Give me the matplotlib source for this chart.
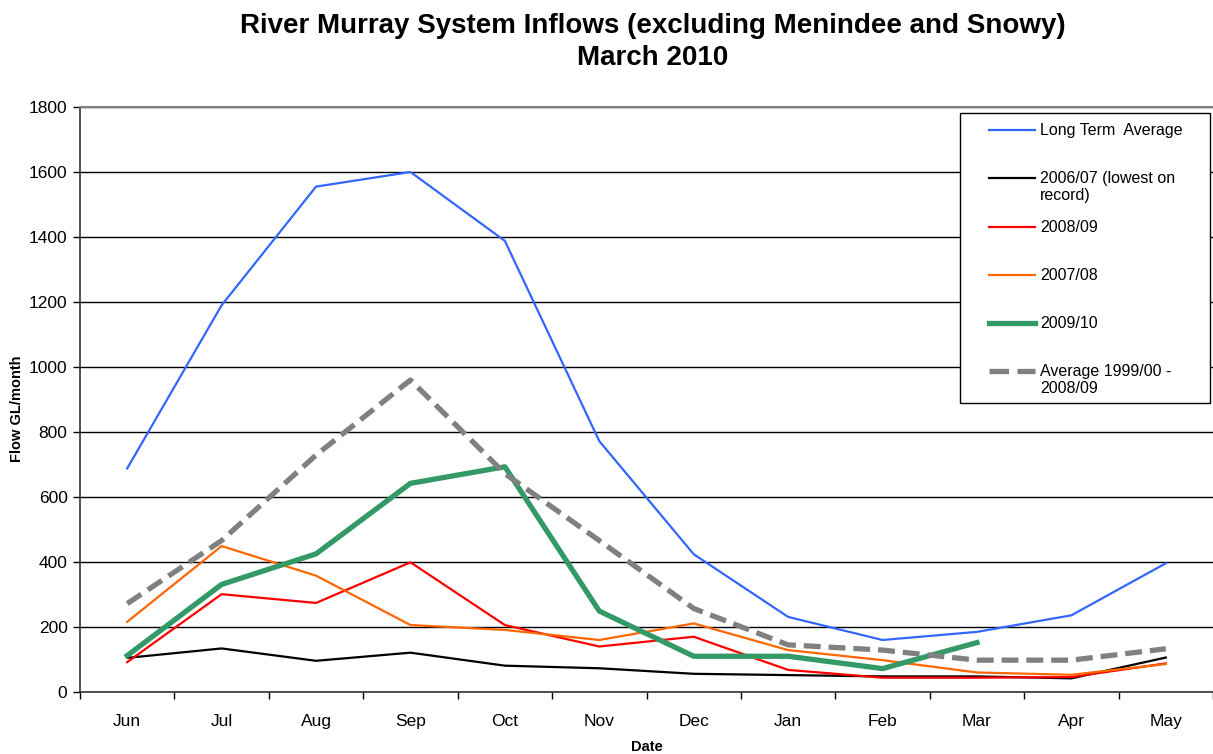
import numpy as np
import matplotlib
matplotlib.use('Agg')
import matplotlib.pyplot as plt
from matplotlib.ticker import MultipleLocator, FixedLocator
from matplotlib.lines import Line2D
from matplotlib.patches import Rectangle

plt.rcParams['font.family'] = ['Liberation Sans', 'DejaVu Sans']

# monthly inflows, GL/month
months = ['Jun', 'Jul', 'Aug', 'Sep', 'Oct', 'Nov', 'Dec', 'Jan', 'Feb', 'Mar', 'Apr', 'May']
long_term_avg = [688, 1190, 1555, 1600, 1388, 772, 424, 231, 160, 185, 236, 396]
y2006_07 = [105, 134, 96, 121, 81, 73, 56, 52, 48, 48, 42, 106]
y2008_09 = [92, 301, 274, 399, 206, 140, 170, 68, 44, 44, 46, 88]
y2007_08 = [216, 449, 358, 206, 191, 160, 211, 129, 98, 60, 53, 86]
y2009_10 = [112, 331, 425, 642, 693, 249, 110, 110, 72, 152]
avg_99_09 = [272, 466, 729, 960, 672, 466, 257, 145, 129, 98, 98, 133]

labels = ['Long Term  Average', '2006/07 (lowest on\nrecord)', '2008/09',
          '2007/08', '2009/10', 'Average 1999/00 -\n2008/09']

W, H = 1213, 754
fig = plt.figure(figsize=(W/100, H/100), dpi=100)
ax = fig.add_axes([80/W, 1-692/H, 1-80/W, (692-107)/H])

x = np.arange(len(months))
lines = []
lines += ax.plot(x, long_term_avg, color='#3366FF', lw=1.6)
lines += ax.plot(x, y2006_07, color='black', lw=1.6)
lines += ax.plot(x, y2008_09, color='#FF0000', lw=1.6)
lines += ax.plot(x, y2007_08, color='#FF6600', lw=1.6)
lines += ax.plot(x[:len(y2009_10)], y2009_10, color='#339966', lw=3.8)
lines += ax.plot(x, avg_99_09, color='#808080', lw=3.8, dashes=(3.2, 1.5))

ax.set_xlim(-0.5, 11.5)
ax.set_ylim(0, 1800)
ax.yaxis.set_major_locator(MultipleLocator(200))
ax.grid(axis='y', color='black', lw=1.0)
ax.set_axisbelow(True)

# category ticks between months, labels centred on months
ax.xaxis.set_major_locator(FixedLocator(np.arange(-0.5, 12, 1)))
ax.xaxis.set_minor_locator(FixedLocator(x))
ax.set_xticklabels([])
ax.set_xticklabels(months, minor=True)
ax.tick_params(axis='x', which='major', length=5, width=1, direction='out')
ax.tick_params(axis='x', which='minor', length=0, pad=16, labelsize=12.5)
ax.tick_params(axis='y', length=5, width=1, direction='out', labelsize=12.5, pad=4)

for s in ['left', 'bottom']:
    ax.spines[s].set_color('#333333')
    ax.spines[s].set_linewidth(1.2)
ax.spines['top'].set_color('#808080')
ax.spines['top'].set_linewidth(1.5)
ax.spines['right'].set_visible(False)

ax.set_ylabel('Flow GL/month', fontsize=10.5, fontweight='bold')
ax.yaxis.set_label_coords(-0.049, 0.485)
ax.set_xlabel('Date', fontsize=10.5, fontweight='bold', labelpad=8)

fig.suptitle('River Murray System Inflows (excluding Menindee and Snowy)\nMarch 2010',
             x=653/W, y=1-13/H, va='top', fontsize=20, fontweight='bold', linespacing=1.3)

# legend laid out like the Excel original: key on the first text line
fig.add_artist(Rectangle((960/W, 1-403/H), 250/W, 290/H, transform=fig.transFigure,
                         facecolor='white', edgecolor='black', lw=1.0, zorder=5))
key_rows = [130, 178, 227, 275, 323, 371]
for ln, lab, py in zip(lines, labels, key_rows):
    key = Line2D([989/W, 1035/W], [1-py/H, 1-py/H], transform=fig.transFigure,
                 color=ln.get_color(), lw=ln.get_linewidth(), linestyle=ln.get_linestyle(),
                 zorder=6)
    fig.add_artist(key)
    fig.text(1040/W, 1-(py-7)/H, lab, fontsize=11.5, va='top', ha='left',
             linespacing=1.2, zorder=6)

fig.savefig('out.png', dpi=100)
